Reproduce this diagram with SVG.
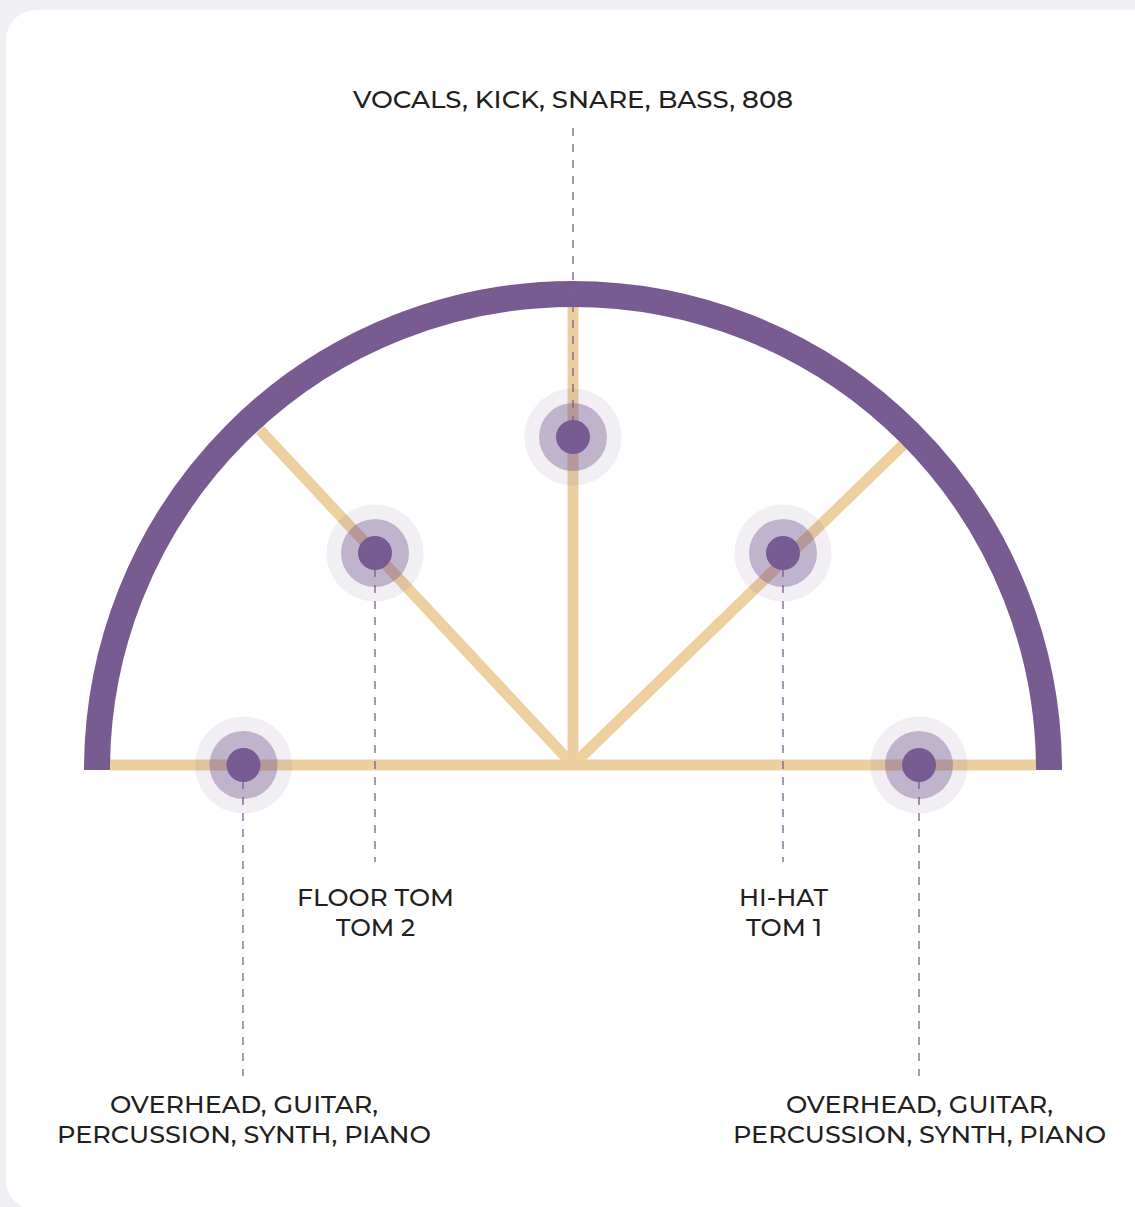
<svg xmlns="http://www.w3.org/2000/svg" width="1135" height="1207" viewBox="0 0 1135 1207">
<style>
.spoke{stroke:#eecfa0;stroke-width:11;fill:none}
.dash{stroke:#7a5e95;stroke-width:1.3;stroke-dasharray:8 8;fill:none}
.halo{fill:#775b92;fill-opacity:0.1}
.ring{fill:#775b92;fill-opacity:0.4}
.dot{fill:#775b92}
.lbl{font-family:"Montserrat","Liberation Sans","DejaVu Sans",sans-serif;font-size:24px;fill:#231f20;text-anchor:middle;font-weight:500}
</style>
<rect x="0" y="0" width="1135" height="1207" fill="#f0eff4"/>
<rect x="6" y="10" width="1160" height="1200" rx="30" ry="30" fill="#ffffff"/>
<g id="spokes">
<line class="spoke" x1="110" y1="765" x2="1036" y2="765"/>
<line class="spoke" x1="573" y1="765" x2="573" y2="306"/>
<line class="spoke" x1="573" y1="765" x2="260" y2="430"/>
<line class="spoke" x1="573" y1="765" x2="903" y2="445"/>
</g>
<path id="arc" d="M97 770 A476 476 0 0 1 1049 770" fill="none" stroke="#775b91" stroke-width="26"/>
<g id="connectors">
<line class="dash" x1="573" y1="128" x2="573" y2="437"/>
<line class="dash" x1="375" y1="553" x2="375" y2="862"/>
<line class="dash" x1="783" y1="553" x2="783" y2="862"/>
<line class="dash" x1="243" y1="765" x2="243" y2="1076"/>
<line class="dash" x1="919" y1="765" x2="919" y2="1076"/>
</g>
<g id="node-top"><circle class="halo" cx="573" cy="437" r="48.5"/><circle class="ring" cx="573" cy="437" r="34"/><circle class="dot" cx="573" cy="437" r="17"/></g>
<g id="node-floortom"><circle class="halo" cx="375" cy="553" r="48.5"/><circle class="ring" cx="375" cy="553" r="34"/><circle class="dot" cx="375" cy="553" r="17"/></g>
<g id="node-hihat"><circle class="halo" cx="783" cy="553" r="48.5"/><circle class="ring" cx="783" cy="553" r="34"/><circle class="dot" cx="783" cy="553" r="17"/></g>
<g id="node-overhead-l"><circle class="halo" cx="243.5" cy="765" r="48.5"/><circle class="ring" cx="243.5" cy="765" r="34"/><circle class="dot" cx="243.5" cy="765" r="17"/></g>
<g id="node-overhead-r"><circle class="halo" cx="919" cy="765" r="48.5"/><circle class="ring" cx="919" cy="765" r="34"/><circle class="dot" cx="919" cy="765" r="17"/></g>
<g id="labels">
<text class="lbl" x="573" y="108" textLength="440" lengthAdjust="spacingAndGlyphs">VOCALS, KICK, SNARE, BASS, 808</text>
<text class="lbl" x="375.5" y="906" textLength="157" lengthAdjust="spacingAndGlyphs">FLOOR TOM</text>
<text class="lbl" x="375.5" y="936" textLength="79" lengthAdjust="spacingAndGlyphs">TOM 2</text>
<text class="lbl" x="783.5" y="906" textLength="89" lengthAdjust="spacingAndGlyphs">HI-HAT</text>
<text class="lbl" x="784" y="936" textLength="76" lengthAdjust="spacingAndGlyphs">TOM 1</text>
<text class="lbl" x="244" y="1113" textLength="268" lengthAdjust="spacingAndGlyphs">OVERHEAD, GUITAR,</text>
<text class="lbl" x="244" y="1143" textLength="374" lengthAdjust="spacingAndGlyphs">PERCUSSION, SYNTH, PIANO</text>
<text class="lbl" x="919.5" y="1113" textLength="267" lengthAdjust="spacingAndGlyphs">OVERHEAD, GUITAR,</text>
<text class="lbl" x="919.5" y="1143" textLength="373" lengthAdjust="spacingAndGlyphs">PERCUSSION, SYNTH, PIANO</text>
</g>
</svg>
